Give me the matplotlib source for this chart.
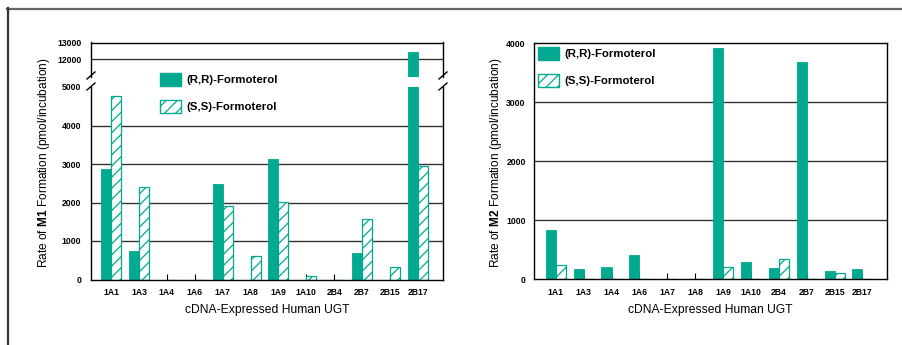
import matplotlib
matplotlib.use("Agg")
import matplotlib.pyplot as plt
from matplotlib.patches import Patch
from matplotlib.lines import Line2D
import numpy as np

# Daten
ugt = ["1A1", "1A3", "1A4", "1A6", "1A7", "1A8", "1A9", "1A10", "2B4", "2B7", "2B15", "2B17"]
m1_rr = [2870, 740, 0, 0, 2480, 0, 3130, 0, 0, 680, 0, 12450]
m1_ss = [4770, 2400, 0, 0, 1900, 600, 2010, 90, 0, 1570, 330, 2940]
m2_rr = [835, 175, 210, 410, 0, 0, 3925, 300, 200, 3685, 145, 170]
m2_ss = [235, 0, 0, 0, 0, 0, 210, 0, 340, 0, 100, 0]

teal = "#00a98f"

plt.rcParams["font.family"] = ["Liberation Sans", "DejaVu Sans"]
plt.rcParams["mathtext.fontset"] = "custom"
plt.rcParams["mathtext.rm"] = "Liberation Sans"
plt.rcParams["mathtext.bf"] = "Liberation Sans:bold"
plt.rcParams["hatch.linewidth"] = 0.9

fig = plt.figure(figsize=(9.02, 3.45), dpi=100)
W, H = 902.0, 345.0

def fx(px):
    return px / W

def fy(py):
    return 1 - py / H

x = np.arange(len(ugt))
bw = 0.36


def balken(ax, rr, ss):
    ax.bar(x - bw / 2, rr, bw, color=teal, edgecolor=teal, linewidth=0.6)
    ax.bar(x + bw / 2, ss, bw, color="white", edgecolor=teal, hatch="///", linewidth=0.9)


def achse_stil(ax):
    ax.set_axisbelow(True)
    ax.tick_params(axis="y", length=0, labelsize=6.2, pad=7)
    ax.tick_params(axis="x", direction="in", length=4, labelsize=6.2, pad=6)
    for lab in ax.get_yticklabels() + ax.get_xticklabels():
        lab.set_fontweight("bold")
    for s in ax.spines.values():
        s.set_linewidth(1.0)


# ---------- linkes Diagramm (M1) mit Achsenbruch ----------
ax_lo = fig.add_axes([fx(91), fy(279.5), fx(443) - fx(91), fy(87) - fy(279.5)])
ax_hi = fig.add_axes([fx(91), fy(77), fx(443) - fx(91), fy(42.5) - fy(77)])

for ax in (ax_lo, ax_hi):
    balken(ax, m1_rr, m1_ss)
    ax.set_xlim(-0.72, 11.9)

ax_lo.set_ylim(0, 5000)
ax_lo.set_yticks([0, 1000, 2000, 3000, 4000, 5000])
ax_lo.set_xticks(x)
ax_lo.set_xticklabels(ugt)
ax_lo.spines["top"].set_visible(False)
for g in [1000, 2000, 3000, 4000]:
    ax_lo.axhline(g, color="#333333", linewidth=1.0, zorder=0.5)

ax_hi.set_ylim(10950, 13000)
ax_hi.set_yticks([12000, 13000])
ax_hi.set_xticks([])
ax_hi.spines["bottom"].set_visible(False)
ax_hi.axhline(12000, color="#333333", linewidth=1.0, zorder=0.5)

achse_stil(ax_lo)
achse_stil(ax_hi)
ax_hi.tick_params(axis="x", length=0)

# Bruchzeichen
for xp in (91, 443):
    for yp in (75.5, 86.5):
        fig.add_artist(Line2D([fx(xp - 4), fx(xp + 4)], [fy(yp + 3.5), fy(yp - 3.5)],
                              color="black", linewidth=1.0))

fig.text(fx(44), fy(162.5), r"Rate of $\mathbf{M1}$ Formation (pmol/incubation)",
         rotation=90, ha="center", va="center", fontsize=8.6)
fig.text(fx(267), fy(310), "cDNA-Expressed Human UGT", ha="center", va="center", fontsize=8.7)

# ---------- rechtes Diagramm (M2) ----------
ax2 = fig.add_axes([fx(534.3), fy(279.3), fx(886.7) - fx(534.3), fy(43.3) - fy(279.3)])
balken(ax2, m2_rr, m2_ss)
ax2.set_xlim(-0.77, 11.87)
ax2.set_ylim(0, 4000)
ax2.set_yticks([0, 1000, 2000, 3000, 4000])
ax2.set_xticks(x)
ax2.set_xticklabels(ugt)
for g in [1000, 2000, 3000]:
    ax2.axhline(g, color="#333333", linewidth=1.0, zorder=0.5)
achse_stil(ax2)
ax2.tick_params(axis="y", pad=6.2)

fig.text(fx(496), fy(162.5), r"Rate of $\mathbf{M2}$ Formation (pmol/incubation)",
         rotation=90, ha="center", va="center", fontsize=8.6)
fig.text(fx(710), fy(310), "cDNA-Expressed Human UGT", ha="center", va="center", fontsize=8.7)

# Legenden
handles = [Patch(facecolor=teal, edgecolor=teal),
           Patch(facecolor="white", edgecolor=teal, hatch="///")]
labels = ["(R,R)-Formoterol", "(S,S)-Formoterol"]
for bx, by in ((160, 73), (538, 47)):
    fig.legend(handles, labels, loc="upper left", bbox_to_anchor=(fx(bx), fy(by)),
               frameon=False, borderpad=0, borderaxespad=0,
               prop={"weight": "bold", "size": 8.2},
               handlelength=1.8, handleheight=1.35, handletextpad=0.5, labelspacing=1.25)

# Rahmen
fig.add_artist(Line2D([fx(7), 1], [fy(8.5), fy(8.5)], color="#666666", linewidth=1.6))
fig.add_artist(Line2D([fx(7.8), fx(7.8)], [fy(8), 0], color="#333333", linewidth=1.6))

fig.savefig("out.png", dpi=100)
